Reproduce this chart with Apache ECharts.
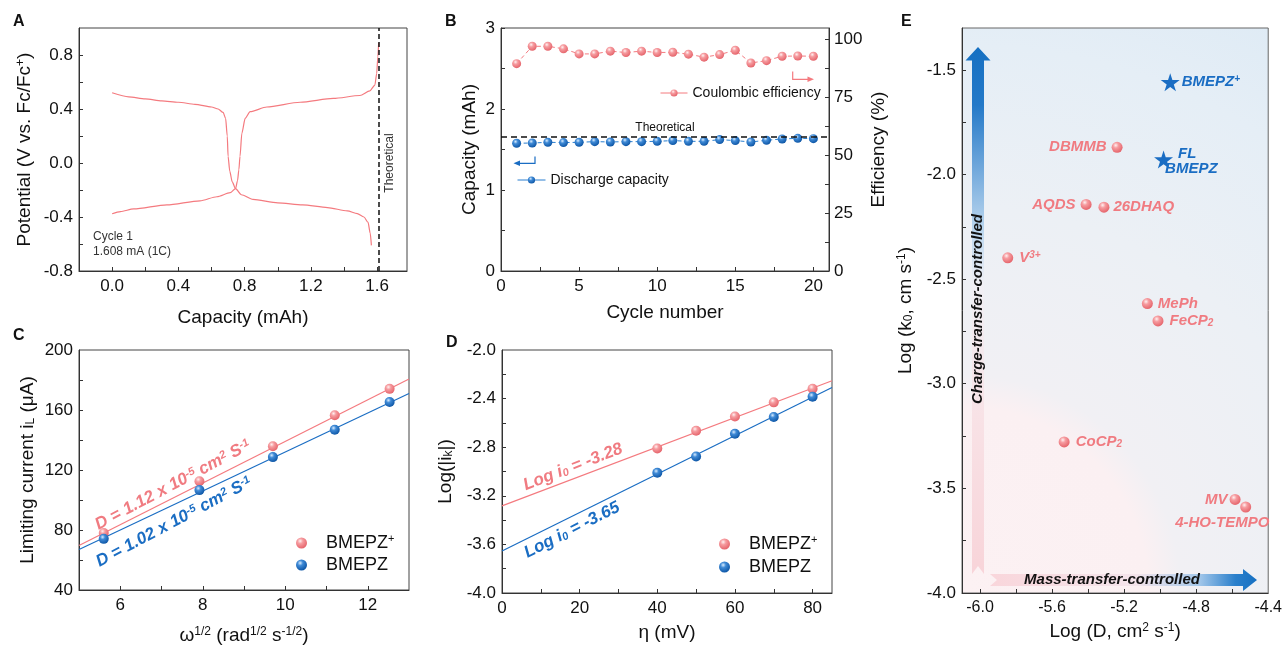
<!DOCTYPE html>
<html><head><meta charset="utf-8">
<script src="https://cdn.jsdelivr.net/npm/echarts@6/dist/echarts.min.js"></script>
<style>html,body{margin:0;padding:0;background:#fff}#c{width:1285px;height:646px}</style>
</head><body><div id="c"></div>
<script>
// ---------- Panel A : charge / discharge curves ----------
const curveUpperX = [0, 0.1, 0.2, 0.3, 0.4, 0.5, 0.6, 0.64, 0.67, 0.685, 0.695, 0.70, 0.71, 0.725, 0.745, 0.78, 0.85, 1.0, 1.15, 1.3, 1.42, 1.48, 1.52, 1.545, 1.558, 1.565];
const curveUpperY = [0.52, 0.49, 0.475, 0.46, 0.45, 0.435, 0.415, 0.40, 0.375, 0.33, 0.2, 0.05, -0.06, -0.14, -0.19, -0.235, -0.27, -0.295, -0.31, -0.33, -0.355, -0.375, -0.40, -0.44, -0.52, -0.61];
const curveLowerX = [0, 0.05, 0.13, 0.33, 0.53, 0.633, 0.713, 0.745, 0.757, 0.765, 0.772, 0.783, 0.803, 0.833, 0.934, 1.135, 1.335, 1.496, 1.556, 1.586, 1.597, 1.604, 1.609];
const curveLowerY = [-0.376, -0.36, -0.34, -0.31, -0.28, -0.25, -0.22, -0.19, -0.13, -0.05, 0.05, 0.22, 0.33, 0.38, 0.415, 0.45, 0.478, 0.50, 0.535, 0.577, 0.663, 0.787, 0.89];
const theoreticalA = 1.612;
const aXLabels = [0, 0.4, 0.8, 1.2, 1.6];
const aXTicks = [0, 0.2, 0.4, 0.6, 0.8, 1.0, 1.2, 1.4, 1.6];
const aYLabels = [-0.8, -0.4, 0, 0.4, 0.8];
const aYTicks = [-0.8, -0.6, -0.4, -0.2, 0, 0.2, 0.4, 0.6, 0.8];

// ---------- Panel B : cycling ----------
const cycles = [1,2,3,4,5,6,7,8,9,10,11,12,13,14,15,16,17,18,19,20];
const coulombicEff = [89.6, 97.1, 97.1, 96.0, 93.8, 93.8, 95.0, 94.4, 95.0, 94.4, 94.5, 93.7, 92.4, 93.5, 95.4, 89.9, 90.9, 92.8, 92.9, 92.8];
const dischargeCap = [1.577, 1.580, 1.589, 1.585, 1.589, 1.597, 1.593, 1.597, 1.597, 1.601, 1.610, 1.601, 1.601, 1.622, 1.610, 1.593, 1.614, 1.630, 1.638, 1.634];
const theoreticalB = 1.655;
const bXLabels = [0, 5, 10, 15, 20];
const bXTicks = [0, 2.5, 5, 7.5, 10, 12.5, 15, 17.5, 20];
const bYLabels = [0, 1, 2, 3];
const bYTicks = [0, 0.5, 1, 1.5, 2, 2.5, 3];
const bY2Labels = [0, 25, 50, 75, 100];
const bY2Ticks = [0, 12.5, 25, 37.5, 50, 62.5, 75, 87.5, 100];

// ---------- Panel C : Levich ----------
const omegaSqrt = [5.6, 7.92, 9.7, 11.2, 12.53];
const iLPlus = [78.0, 112.5, 135.8, 156.5, 174.1];
const iLNeutral = [74.1, 106.6, 128.6, 146.8, 165.3];
const fitXC = [5, 13];
const fitPlusC = [69.7, 180.7];
const fitNeutralC = [67.0, 171.0];
const cXLabels = [6, 8, 10, 12];
const cXTicks = [6, 7, 8, 9, 10, 11, 12];
const cYLabels = [40, 80, 120, 160, 200];
const cYTicks = [60, 80, 100, 120, 140, 160, 180];

// ---------- Panel D : Tafel-type ----------
const eta = [40, 50, 60, 70, 80];
const logIkPlus = [-2.81, -2.665, -2.547, -2.431, -2.319];
const logIkNeutral = [-3.011, -2.876, -2.69, -2.552, -2.385];
const fitXD = [0, 85];
const fitPlusD = [-3.283, -2.253];
const fitNeutralD = [-3.654, -2.308];
const dXLabels = [0, 20, 40, 60, 80];
const dXTicks = [10, 20, 30, 40, 50, 60, 70, 80];
const dYLabels = [-4.0, -3.6, -3.2, -2.8, -2.4, -2.0];
const dYTicks = [-3.8, -3.6, -3.4, -3.2, -3.0, -2.8, -2.6, -2.4, -2.2];

// ---------- Panel E : log k0 vs log D ----------
const eNames = ['DBMMB', 'AQDS', '26DHAQ', 'V3+', 'MePh', 'FeCP2', 'CoCP2', 'MV', '4-HO-TEMPO'];
const eLogD = [-5.239, -5.411, -5.312, -5.846, -5.071, -5.012, -5.533, -4.584, -4.525];
const eLogK = [-1.870, -2.143, -2.156, -2.398, -2.617, -2.700, -3.278, -3.553, -3.589];
const starNames = ['BMEPZ+', 'FL BMEPZ'];
const starLogD = [-4.944, -4.981];
const starLogK = [-1.559, -1.928];
const eXLabels = [-6.0, -5.6, -5.2, -4.8, -4.4];
const eXTicks = [-6.0, -5.8, -5.6, -5.4, -5.2, -5.0, -4.8, -4.6];
const eYLabels = [-4.0, -3.5, -3.0, -2.5, -2.0, -1.5];
const eYTicks = [-3.75, -3.5, -3.25, -3.0, -2.75, -2.5, -2.25, -2.0, -1.75, -1.5];

// ---------- styles ----------
const FONT = '"Liberation Sans", Arial, Helvetica, sans-serif';
const RED_LINE = '#f47a7f';
const RED_TEXT = '#f07b81';
const BLUE = '#1a6dc3';
const redBall = () => ({type:'radial', x:0.38, y:0.32, r:0.7, colorStops:[{offset:0,color:'#fff1f1'},{offset:0.35,color:'#f69ca0'},{offset:1,color:'#e5636a'}]});
const blueBall = () => ({type:'radial', x:0.38, y:0.32, r:0.7, colorStops:[{offset:0,color:'#d8ecff'},{offset:0.35,color:'#3f8ad6'},{offset:1,color:'#0c55a5'}]});
const zip = (a, b) => a.map((v, i) => [v, b[i]]);

const NAME_RICH = {
  sup: {fontSize: 12, verticalAlign: 'top', fontFamily: FONT, color: '#111'},
  sub: {fontSize: 12, verticalAlign: 'bottom', fontFamily: FONT, color: '#111'}
};

function vAxis(c) {
  return {
    type: 'value', gridIndex: c.grid, min: c.min, max: c.max, position: c.position,
    name: c.name, nameLocation: 'middle', nameGap: c.nameGap, nameRotate: c.nameRotate,
    nameTextStyle: {fontSize: 19, color: '#111', fontFamily: FONT, rich: NAME_RICH},
    axisLine: {show: true, onZero: false, lineStyle: {color: '#333', width: 1}},
    axisTick: {show: true, inside: true, length: 4, customValues: c.ticks, lineStyle: {color: '#333', width: 1}},
    axisLabel: {show: true, customValues: c.labels, fontSize: c.labelSize || 17, color: '#111', fontFamily: FONT, margin: c.margin || 6,
      formatter: v => c.dec ? (+v).toFixed(c.dec) : String(Math.round(v))},
    splitLine: {show: false}
  };
}

const gridBase = {show: true, borderColor: '#444', borderWidth: 1, containLabel: false};

function gtext(x, y, text, o) {
  o = o || {};
  return {type: 'text', x: x, y: y, rotation: o.rotation || 0, z: o.z || 100,
    style: {text: text, fill: o.fill || '#111', fontSize: o.size || 12, fontWeight: o.weight || 'normal',
      fontStyle: o.italic ? 'italic' : 'normal', fontFamily: FONT,
      align: o.align || 'left', verticalAlign: o.valign || 'top',
      textAlign: o.align || 'left', textVerticalAlign: o.valign || 'top', rich: o.rich}};
}
function richTok(size, va, color) {
  return {fontSize: size, verticalAlign: va, fontWeight: 'bold', fontStyle: 'italic', fontFamily: FONT, fill: color, color: color};
}

const eLabelStyle = {
  'DBMMB': {position: 'left', distance: 5},
  'AQDS': {position: 'left', distance: 5},
  '26DHAQ': {position: 'right', distance: 4},
  'V3+': {position: 'right', distance: 6},
  'MePh': {position: 'right', distance: 5},
  'FeCP2': {position: 'right', distance: 6},
  'CoCP2': {position: 'right', distance: 6},
  'MV': {position: 'left', distance: 2},
  '4-HO-TEMPO': {position: [-65, 14]}
};
const eLabelText = {'V3+': 'V{sup|3+}', 'FeCP2': 'FeCP{sub|2}', 'CoCP2': 'CoCP{sub|2}'};
const starLabel = {
  'BMEPZ+': {position: 'right', distance: 2, formatter: 'BMEPZ{sup|+}'},
  'FL BMEPZ': {position: [11, -4], formatter: '{fl|FL}\n{b|BMEPZ}'}
};
const STAR = 'path://M50,0 L61,35 L98,35 L68,57 L79,91 L50,70 L21,91 L32,57 L2,35 L39,35 Z';

const legendRich = {sup: {fontSize: 11, verticalAlign: 'top', fontFamily: FONT, color: '#111'}};

const chart = echarts.init(document.getElementById('c'), null, {renderer: 'canvas'});
chart.setOption({
  animation: false,
  backgroundColor: '#fff',
  grid: [
    Object.assign({left: 79, top: 28, width: 328, height: 243}, gridBase),
    Object.assign({left: 501, top: 28, width: 328, height: 243}, gridBase),
    Object.assign({left: 79, top: 350, width: 330, height: 243}, gridBase),
    Object.assign({left: 502, top: 350, width: 330, height: 243}, gridBase),
    Object.assign({left: 962, top: 28, width: 309, height: 565}, gridBase, {borderColor: '#666',
      backgroundColor: {type: 'radial', x: 0, y: 1, r: 2.1, colorStops: [
        {offset: 0, color: '#fcf1f3'}, {offset: 0.29, color: '#fbf0f2'}, {offset: 0.34, color: '#f1f0f4'},
        {offset: 0.6, color: '#ecf0f5'}, {offset: 0.85, color: '#e5eef6'}, {offset: 1, color: '#dfebf5'}]}})
  ],
  xAxis: [
    vAxis({grid: 0, min: -0.2, max: 1.78, labels: aXLabels, ticks: aXTicks, dec: 1, name: 'Capacity (mAh)', nameGap: 37, margin: 7}),
    vAxis({grid: 1, min: 0, max: 21, labels: bXLabels, ticks: bXTicks, name: 'Cycle number', nameGap: 32, margin: 7}),
    vAxis({grid: 2, min: 5, max: 13, labels: cXLabels, ticks: cXTicks, name: 'ω{sup|1/2} (rad{sup|1/2} s{sup|-1/2})', nameGap: 36, margin: 7}),
    vAxis({grid: 3, min: 0, max: 85, labels: dXLabels, ticks: dXTicks, name: 'η (mV)', nameGap: 30, margin: 7}),
    vAxis({grid: 4, min: -6.1, max: -4.4, labels: eXLabels, ticks: eXTicks, dec: 1, labelSize: 16, name: 'Log (D, cm{sup|2} s{sup|-1})', nameGap: 29, margin: 7})
  ],
  yAxis: [
    vAxis({grid: 0, min: -0.8, max: 1.0, labels: aYLabels, ticks: aYTicks, dec: 1, name: 'Potential (V vs. Fc/Fc{sup|+})', nameGap: 45}),
    vAxis({grid: 1, min: 0, max: 3, labels: bYLabels, ticks: bYTicks, name: 'Capacity (mAh)', nameGap: 22}),
    vAxis({grid: 1, min: 0, max: 105, labels: bY2Labels, ticks: bY2Ticks, position: 'right', name: 'Efficiency (%)', nameGap: 40, nameRotate: 90, margin: 5}),
    vAxis({grid: 2, min: 40, max: 200, labels: cYLabels, ticks: cYTicks, name: 'Limiting current i{sub|L} (μA)', nameGap: 42}),
    vAxis({grid: 3, min: -4, max: -2, labels: dYLabels, ticks: dYTicks, dec: 1, name: 'Log(|i{sub|k}|)', nameGap: 47}),
    vAxis({grid: 4, min: -4.0, max: -1.3, labels: eYLabels, ticks: eYTicks, dec: 1, name: 'Log (k{sub|0}, cm s{sup|-1})', nameGap: 47})
  ],
  legend: [
    {data: ['Coulombic efficiency'], left: 660, top: 86, padding: 0, itemWidth: 27, itemHeight: 9, selectedMode: false,
      lineStyle: {type: 'solid', width: 1}, textStyle: {fontSize: 14, color: '#111', fontFamily: FONT}},
    {data: ['Discharge capacity'], left: 517, top: 173, padding: 0, itemWidth: 28, itemHeight: 9, selectedMode: false,
      lineStyle: {type: 'solid', width: 1}, textStyle: {fontSize: 14, color: '#111', fontFamily: FONT}},
    {data: ['BMEPZ+', 'BMEPZ'], orient: 'vertical', left: 296, top: 533, padding: 0, itemWidth: 11, itemHeight: 11, itemGap: 2, selectedMode: false,
      formatter: n => n === 'BMEPZ+' ? 'BMEPZ{sup|+}' : n,
      textStyle: {fontSize: 18, lineHeight: 20, color: '#111', fontFamily: FONT, padding: [0, 0, 0, 14], rich: legendRich}},
    {data: ['BMEPZ+', 'BMEPZ'], orient: 'vertical', left: 719, top: 534, padding: 0, itemWidth: 11, itemHeight: 11, itemGap: 3, selectedMode: false,
      formatter: n => n === 'BMEPZ+' ? 'BMEPZ{sup|+}' : n,
      textStyle: {fontSize: 18, lineHeight: 20, color: '#111', fontFamily: FONT, padding: [0, 0, 0, 14], rich: legendRich}}
  ],
  series: [
    // A
    {type: 'line', xAxisIndex: 0, yAxisIndex: 0, data: zip(curveUpperX, curveUpperY), showSymbol: false, smooth: 0.25, smoothMonotone: 'x',
      lineStyle: {color: RED_LINE, width: 1.2},
      markLine: {silent: true, symbol: 'none', label: {show: false}, lineStyle: {type: [5, 3], color: '#111', width: 1.5}, data: [{xAxis: theoreticalA}]}},
    {type: 'line', xAxisIndex: 0, yAxisIndex: 0, data: zip(curveLowerX, curveLowerY), showSymbol: false, smooth: 0.25, smoothMonotone: 'x',
      lineStyle: {color: RED_LINE, width: 1.2}},
    // B
    {type: 'line', name: 'Coulombic efficiency', xAxisIndex: 1, yAxisIndex: 2, data: zip(cycles, coulombicEff),
      symbol: 'circle', symbolSize: 9, itemStyle: {color: redBall(), opacity: 1}, lineStyle: {color: RED_LINE, width: 1, type: [4, 3]}},
    {type: 'line', name: 'Discharge capacity', xAxisIndex: 1, yAxisIndex: 1, data: zip(cycles, dischargeCap),
      symbol: 'circle', symbolSize: 9, itemStyle: {color: blueBall(), opacity: 1}, lineStyle: {color: '#2a7fd0', width: 1, type: [4, 3]},
      markLine: {silent: true, symbol: 'none', lineStyle: {type: [6, 4], color: '#111', width: 1.5},
        label: {show: true, position: 'insideMiddleTop', formatter: 'Theoretical', color: '#111', fontSize: 12, fontFamily: FONT, distance: 3},
        data: [{yAxis: theoreticalB}]}},
    // C
    {type: 'line', xAxisIndex: 2, yAxisIndex: 3, data: zip(fitXC, fitPlusC), showSymbol: false, lineStyle: {color: RED_LINE, width: 1.2}, z: 1},
    {type: 'line', xAxisIndex: 2, yAxisIndex: 3, data: zip(fitXC, fitNeutralC), showSymbol: false, lineStyle: {color: BLUE, width: 1.2}, z: 1},
    {type: 'scatter', name: 'BMEPZ+', xAxisIndex: 2, yAxisIndex: 3, data: zip(omegaSqrt, iLPlus), symbolSize: 10, itemStyle: {color: redBall(), opacity: 1}},
    {type: 'scatter', name: 'BMEPZ', xAxisIndex: 2, yAxisIndex: 3, data: zip(omegaSqrt, iLNeutral), symbolSize: 10, itemStyle: {color: blueBall(), opacity: 1}},
    // D
    {type: 'line', xAxisIndex: 3, yAxisIndex: 4, data: zip(fitXD, fitPlusD), showSymbol: false, lineStyle: {color: RED_LINE, width: 1.2}, z: 1},
    {type: 'line', xAxisIndex: 3, yAxisIndex: 4, data: zip(fitXD, fitNeutralD), showSymbol: false, lineStyle: {color: BLUE, width: 1.2}, z: 1},
    {type: 'scatter', name: 'BMEPZ+', xAxisIndex: 3, yAxisIndex: 4, data: zip(eta, logIkPlus), symbolSize: 10, itemStyle: {color: redBall(), opacity: 1}},
    {type: 'scatter', name: 'BMEPZ', xAxisIndex: 3, yAxisIndex: 4, data: zip(eta, logIkNeutral), symbolSize: 10, itemStyle: {color: blueBall(), opacity: 1}},
    // E
    {type: 'scatter', name: 'reported', xAxisIndex: 4, yAxisIndex: 5, symbolSize: 11, itemStyle: {color: redBall(), opacity: 1},
      label: {show: true, color: RED_TEXT, fontSize: 15, fontWeight: 'bold', fontStyle: 'italic', fontFamily: FONT,
        rich: {sup: richTok(10, 'top', RED_TEXT), sub: richTok(10, 'bottom', RED_TEXT)}},
      data: eNames.map((n, i) => ({name: n, value: [eLogD[i], eLogK[i]],
        label: Object.assign({formatter: eLabelText[n] || n}, eLabelStyle[n])}))},
    {type: 'scatter', name: 'this work', xAxisIndex: 4, yAxisIndex: 5, symbol: STAR, symbolSize: 19, symbolKeepAspect: true, itemStyle: {color: BLUE, opacity: 1},
      label: {show: true, color: BLUE, fontSize: 15, fontWeight: 'bold', fontStyle: 'italic', fontFamily: FONT,
        rich: {sup: richTok(10, 'top', BLUE), fl: Object.assign(richTok(15, 'middle', BLUE), {padding: [0, 0, 0, 13]}), b: richTok(15, 'middle', BLUE)}},
      data: starNames.map((n, i) => ({name: n, value: [starLogD[i], starLogK[i]], label: starLabel[n]}))}
  ],
  graphic: [
    // panel letters
    gtext(13, 14, 'A', {size: 16, weight: 'bold'}),
    gtext(445, 14, 'B', {size: 16, weight: 'bold'}),
    gtext(13, 328, 'C', {size: 16, weight: 'bold'}),
    gtext(446, 335, 'D', {size: 16, weight: 'bold'}),
    gtext(901, 14, 'E', {size: 16, weight: 'bold'}),
    // A annotations
    gtext(93, 237, 'Cycle 1', {size: 12, fill: '#333', valign: 'middle'}),
    gtext(93, 252, '1.608 mA (1C)', {size: 12, fill: '#333', valign: 'middle'}),
    gtext(390, 163, 'Theoretical', {size: 12, fill: '#333', align: 'center', valign: 'middle', rotation: Math.PI / 2}),
    // B arrows
    {type: 'polyline', z: 100, shape: {points: [[792.7, 71.5], [792.7, 79.3], [809, 79.3]]}, style: {stroke: RED_LINE, lineWidth: 1.2, fill: null}},
    {type: 'polygon', z: 100, shape: {points: [[814, 79.3], [807.5, 76.6], [807.5, 82]]}, style: {fill: RED_LINE}},
    {type: 'polyline', z: 100, shape: {points: [[535, 156.5], [535, 163.3], [519, 163.3]]}, style: {stroke: BLUE, lineWidth: 1.2, fill: null}},
    {type: 'polygon', z: 100, shape: {points: [[513.5, 163.3], [520, 160.6], [520, 166]]}, style: {fill: BLUE}},
    // C rotated fit annotations
    gtext(173, 485, 'D = 1.12 x 10{sup|-5} cm{sup|2} S{sup|-1}', {size: 17, weight: 'bold', italic: true, fill: RED_TEXT, align: 'center', valign: 'middle', rotation: 28 * Math.PI / 180,
      rich: {sup: richTok(11, 'top', RED_TEXT)}}),
    gtext(174, 522, 'D = 1.02 x 10{sup|-5} cm{sup|2} S{sup|-1}', {size: 17, weight: 'bold', italic: true, fill: BLUE, align: 'center', valign: 'middle', rotation: 28 * Math.PI / 180,
      rich: {sup: richTok(11, 'top', BLUE)}}),
    // D rotated annotations
    gtext(573, 467, 'Log i{sub|0} = -3.28', {size: 17, weight: 'bold', italic: true, fill: RED_TEXT, align: 'center', valign: 'middle', rotation: 21 * Math.PI / 180,
      rich: {sub: richTok(11, 'bottom', RED_TEXT)}}),
    gtext(572, 530, 'Log i{sub|0} = -3.65', {size: 17, weight: 'bold', italic: true, fill: BLUE, align: 'center', valign: 'middle', rotation: 27 * Math.PI / 180,
      rich: {sub: richTok(11, 'bottom', BLUE)}}),
    // E arrows
    {type: 'polygon', z: 50, shape: {points: [[978, 47], [990.5, 60.5], [984, 60.5], [984, 574], [978, 566], [972, 574], [972, 60.5], [965.5, 60.5]]},
      style: {fill: {type: 'linear', x: 0, y: 0, x2: 0, y2: 1, colorStops: [
        {offset: 0, color: '#1670c2'}, {offset: 0.11, color: '#2479c8'}, {offset: 0.35, color: '#bcd7ef'}, {offset: 0.45, color: '#f1f0f5'},
        {offset: 0.7, color: '#f8e2e6'}, {offset: 1, color: '#f8d4d9'}]}}},
    {type: 'polygon', z: 50, shape: {points: [[990, 574], [1243, 574], [1243, 569], [1257, 580], [1243, 591], [1243, 586], [990, 586], [997, 580]]},
      style: {fill: {type: 'linear', x: 0, y: 0, x2: 1, y2: 0, colorStops: [
        {offset: 0, color: '#f9d6db'}, {offset: 0.55, color: '#f4e4eb'}, {offset: 0.78, color: '#a6c9eb'}, {offset: 0.92, color: '#2a7fcb'}, {offset: 1, color: '#1670c2'}]}}},
    gtext(978, 309, 'Charge-transfer-controlled', {size: 15, weight: 'bold', italic: true, fill: '#111', align: 'center', valign: 'middle', rotation: Math.PI / 2, z: 120}),
    gtext(1112, 580, 'Mass-transfer-controlled', {size: 15, weight: 'bold', italic: true, fill: '#111', align: 'center', valign: 'middle', z: 120})
  ]
});
</script></body></html>
